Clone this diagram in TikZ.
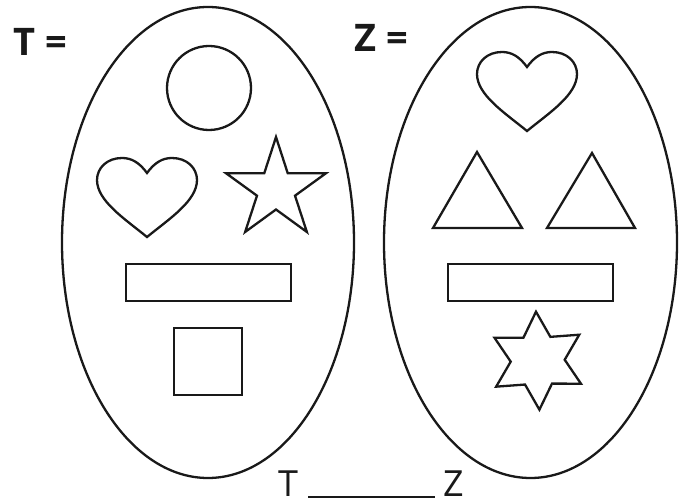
\documentclass[tikz,border=0pt]{standalone}
\usepackage{fontspec}
\setmainfont{Open Sans}
\usetikzlibrary{calc}
\tikzset{
  shapeline/.style={draw=black!90, line width=2.3pt, line join=miter},
  heartpic/.pic={
    \draw[shapeline] (0,0) .. controls (-8,-11) and (-16,-15) .. (-25,-15)
      .. controls (-40,-15) and (-50,-5) .. (-50,7)
      .. controls (-50,28) and (-22,46) .. (0,64)
      .. controls (22,46) and (50,28) .. (50,7)
      .. controls (50,-5) and (40,-15) .. (25,-15)
      .. controls (16,-15) and (8,-11) .. (0,0) -- cycle;
  },
  biglabel/.style={font=\fontsize{38}{42}\selectfont\bfseries, inner sep=0pt, anchor=base west, text=black!90},
  bottomlabel/.style={font=\fontsize{36}{40}\selectfont, inner sep=0pt, anchor=base west, text=black!90, text depth=0pt},
}
\begin{document}
\begin{tikzpicture}[x=1pt,y=-1pt]
\useasboundingbox (0,0) rectangle (686,502);
% ellipses
\draw[shapeline] (208,242.5) ellipse [x radius=146, y radius=235.5];
\draw[shapeline] (530.5,242.5) ellipse [x radius=146.5, y radius=235.5];
% labels
\node[biglabel] (tlab) at (13,56) {T =};
\node[biglabel] (zlab) at (354,52) {Z =};
% left set
\draw[shapeline] (209,88) circle [radius=42];
\pic at (147,173) {heartpic};
\draw[shapeline]
  ($(276,189.5)+(-90:52.5)$) \foreach \k in {0,...,4} {
    -- ($(276,189.5)+(-54+72*\k:20)$) -- ($(276,189.5)+(-18+72*\k:52.5)$)
  } -- cycle;
\draw[shapeline] (126,264) rectangle (291,301);
\draw[shapeline] (174,328) rectangle (242,395);
% right set
\pic at (527,67) {heartpic};
\draw[shapeline] (477,152) -- (522,228) -- (433,228) -- cycle;
\draw[shapeline] (592,153) -- (635,228) -- (547,228) -- cycle;
\draw[shapeline] (448,264) rectangle (613,301);
\draw[shapeline]
  ($(537.7,360.7)+(-92:49)$) \foreach \k in {0,...,5} {
    -- ($(537.7,360.7)+(-62+60*\k:27)$) -- ($(537.7,360.7)+(-32+60*\k:49)$)
  } -- cycle;
% bottom
\node[bottomlabel] (tb) at (278,497) {T};
\node[bottomlabel] (zb) at (443,497) {Z};
\coordinate (ua) at (308,497.5);
\coordinate (ub) at (435,497.5);
\draw[black!90, line width=2pt] (ua) -- (ub);
\end{tikzpicture}
\end{document}
